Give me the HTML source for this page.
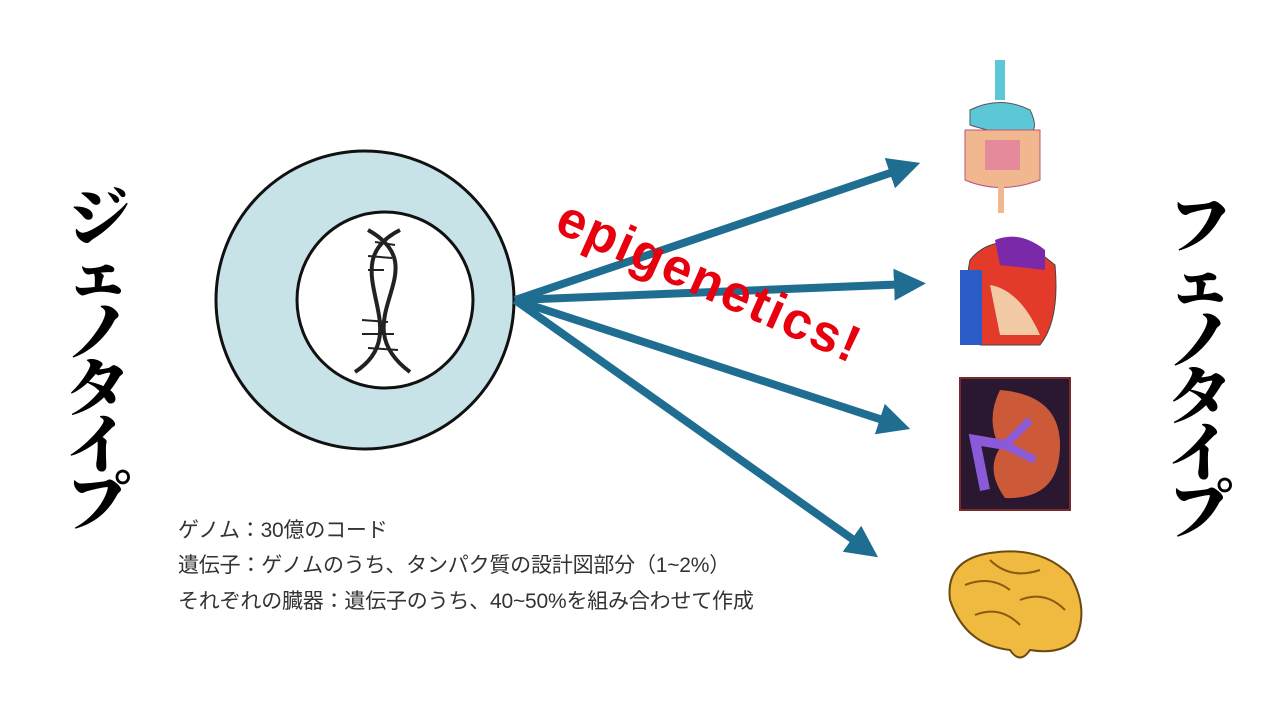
<!DOCTYPE html>
<html><head><meta charset="utf-8"><style>
html,body{margin:0;padding:0;background:#fff;}
#c{position:relative;width:1280px;height:720px;overflow:hidden;font-family:"Liberation Sans","Noto Sans CJK JP",sans-serif;}
.v{position:absolute;width:80px;font-family:"Noto Serif CJK SC","Noto Sans CJK JP",serif;font-weight:900;font-size:64px;line-height:57px;text-align:center;color:#000;}
.t{position:absolute;left:178px;font-size:21px;color:#333;white-space:nowrap;letter-spacing:-0.2px;}
#epi{position:absolute;left:572px;top:188px;font-family:"Liberation Sans",sans-serif;font-weight:900;font-size:52px;color:#e8000f;transform:rotate(24deg);transform-origin:0 0;letter-spacing:2px;}
</style></head><body><div id="c">
<div class="v" style="left:58px;top:185px;">ジ<br>ェ<br>ノ<br>タ<br>イ<br>プ</div>
<div class="v" style="left:1160px;top:193px;">フ<br>ェ<br>ノ<br>タ<br>イ<br>プ</div>
<svg width="1280" height="720" style="position:absolute;left:0;top:0">
<defs><marker id="a" markerWidth="4" markerHeight="4" refX="2" refY="2" orient="auto"><path d="M0,0L4,2L0,4z" fill="#1f6e91"/></marker></defs>
<circle cx="365" cy="300" r="149" fill="#c7e3e8" stroke="#111" stroke-width="3"/>
<circle cx="385" cy="300" r="88" fill="#fff" stroke="#111" stroke-width="3"/>
<g stroke="#222" stroke-width="4" fill="none">
<path d="M400,230 C330,265 420,330 355,372"/>
<path d="M368,230 C440,270 340,320 410,372"/>
</g>
<g stroke="#222" stroke-width="2">
<line x1="375" y1="242" x2="395" y2="245"/><line x1="368" y1="256" x2="392" y2="258"/><line x1="368" y1="270" x2="384" y2="270"/>
<line x1="362" y1="320" x2="388" y2="322"/><line x1="362" y1="334" x2="394" y2="334"/><line x1="368" y1="348" x2="398" y2="350"/>
</g>
<g stroke="#1f6e91" stroke-width="8" fill="none" marker-end="url(#a)">
<line x1="515" y1="300" x2="905" y2="168"/>
<line x1="515" y1="300" x2="910" y2="284"/>
<line x1="515" y1="300" x2="895" y2="424"/>
<line x1="515" y1="300" x2="865" y2="548"/>
</g>
<rect x="995" y="60" width="10" height="40" fill="#5cc7d6"/>
<path d="M970,110 Q1000,95 1030,110 Q1045,140 1010,135 Q985,130 970,125z" fill="#5cc7d6" stroke="#555"/>
<path d="M965,130 L1040,130 L1040,180 Q1000,195 965,180z" fill="#f1b78e" stroke="#b57" stroke-width="1"/>
<rect x="985" y="140" width="35" height="30" fill="#e58a9a"/>
<rect x="998" y="185" width="6" height="28" fill="#f1b78e"/>
<path d="M970,260 Q990,235 1030,245 L1055,265 Q1060,320 1040,345 L980,345 Q960,310 970,260z" fill="#e33a2a" stroke="#444"/>
<rect x="960" y="270" width="22" height="75" fill="#2b5cc8"/>
<path d="M995,240 Q1020,230 1045,250 L1045,270 L1000,265z" fill="#7a2aa8"/>
<path d="M990,285 Q1020,290 1040,335 L1000,335z" fill="#f2c9a5"/>
<rect x="960" y="378" width="110" height="132" fill="#2a1830" stroke="#7a2a2a" stroke-width="2"/>
<path d="M1000,390 Q1060,395 1060,445 Q1060,500 1005,498 Q985,470 1000,448 Q985,420 1000,390z" fill="#cc5a38"/>
<path d="M1005,445 L975,440 L985,490" stroke="#8a5ad8" stroke-width="10" fill="none"/>
<path d="M1005,445 L1030,420 M1005,445 L1035,460" stroke="#8a5ad8" stroke-width="8"/>
<path d="M950,600 Q945,560 990,553 Q1040,545 1070,575 Q1090,610 1075,640 Q1060,655 1030,650 Q1020,665 1010,650 Q965,645 950,600z" fill="#f0b93f" stroke="#6b4a10" stroke-width="2"/>
<path d="M965,585 Q990,575 1010,590 M990,560 Q1010,580 1040,570 M1020,600 Q1045,590 1065,610 M975,615 Q1000,605 1020,625" stroke="#8a5a10" stroke-width="2" fill="none"/>
</svg>
<div id="epi">epigenetics!</div>
<div class="t" style="top:514px;">ゲノム：30億のコード</div>
<div class="t" style="top:549px;">遺伝子：ゲノムのうち、タンパク質の設計図部分（1~2%）</div>
<div class="t" style="top:585px;">それぞれの臓器：遺伝子のうち、40~50%を組み合わせて作成</div>
</div></body></html>
